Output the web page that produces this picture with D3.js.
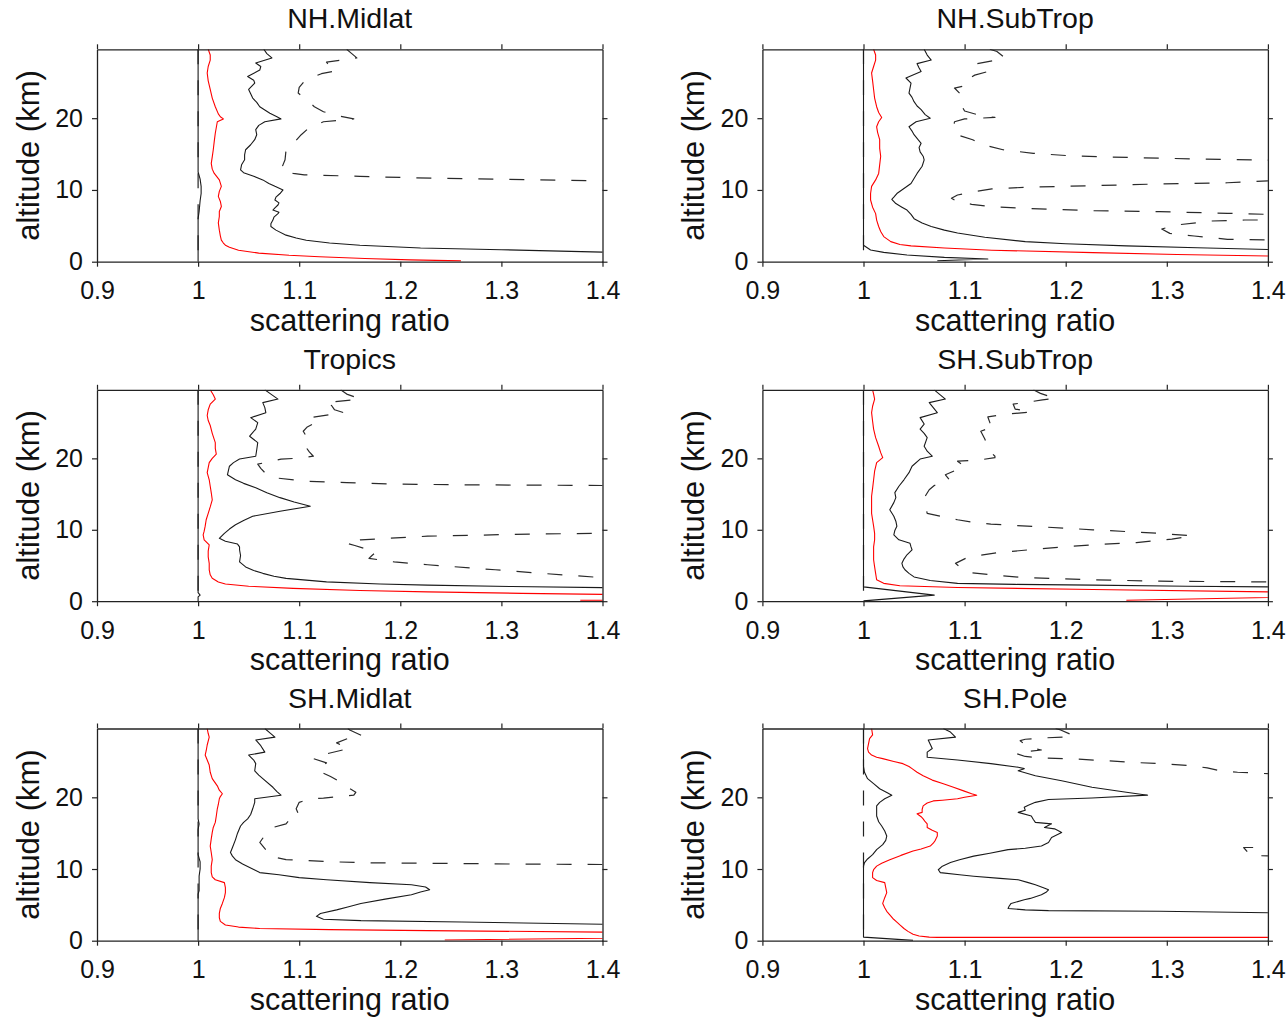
<!DOCTYPE html>
<html><head><meta charset="utf-8">
<script src="https://cdn.jsdelivr.net/npm/d3@7"></script>
<style>body{margin:0;background:#fff}svg{display:block}</style>
</head><body>
<svg id="chart" width="1288" height="1018"></svg>
<script>
// ---- tick / label data ----
const panelTitles = ["NH.Midlat","NH.SubTrop","Tropics","SH.SubTrop","SH.Midlat","SH.Pole"];
const xTicks = [0.9,1,1.1,1.2,1.3,1.4];
const xTickLabels = ["0.9","1","1.1","1.2","1.3","1.4"];
const yTicks = [0,10,20];
const yTickLabels = ["0","10","20"];
const xDomain = [0.9,1.4];
const yDomain = [0,29.6];
const xLabel = "scattering ratio";
const yLabel = "altitude (km)";

// ---- series: [altitude km, scattering ratio] ----
// NH.Midlat
const nhMidlatMin = [[29.6,1],[0,1]];
const nhMidlatLow = [[29.6,1],[12.5,1],[11.5,1.002],[10.5,1.003],[9.5,1.003],[8.5,1.002],[7,1.001],[6,1],[0,1]];
const nhMidlatMedian = [[29.6,1.010],[28.8,1.012],[28.1,1.012],[27.2,1.010],[26.3,1.009],[25.2,1.010],[24,1.012],[22.8,1.014],[21.6,1.017],[20.6,1.020],[20.2,1.022],[19.9,1.025],[19.5,1.019],[18.7,1.018],[17.9,1.017],[16.8,1.016],[15.6,1.015],[14.6,1.014],[13.7,1.013],[12.9,1.014],[12.3,1.016],[11.4,1.021],[10.5,1.023],[9.8,1.021],[9.1,1.020],[8.4,1.022],[7.7,1.023],[7.0,1.021],[6.3,1.021],[5.4,1.020],[4.4,1.021],[3.6,1.022],[3.0,1.023],[2.6,1.025],[2.3,1.027],[2.0,1.031],[1.6,1.04],[1.2,1.06],[0.9,1.09],[0.7,1.12],[0.45,1.165],[0.25,1.21],[0.12,1.26]];
const nhMidlatHigh = [[29.6,1.065],[29.0,1.068],[28.4,1.073],[27.7,1.057],[27.2,1.062],[26.7,1.061],[25.8,1.049],[25.3,1.055],[24.9,1.056],[24.0,1.050],[23.4,1.052],[22.8,1.054],[22.2,1.058],[21.6,1.061],[20.7,1.071],[20.2,1.078],[19.9,1.082],[19.5,1.066],[19.0,1.060],[18.4,1.057],[17.7,1.058],[17.0,1.056],[16.3,1.052],[15.6,1.047],[14.9,1.046],[14.2,1.046],[13.5,1.043],[12.8,1.042],[12.4,1.045],[11.9,1.055],[11.4,1.064],[10.9,1.070],[10.5,1.076],[10.0,1.084],[9.5,1.081],[9.0,1.077],[8.6,1.076],[8.2,1.080],[7.9,1.079],[7.5,1.076],[7.2,1.074],[6.9,1.080],[6.7,1.079],[6.2,1.075],[5.8,1.074],[5.3,1.072],[4.9,1.072],[4.4,1.077],[3.7,1.087],[3.3,1.097],[3.0,1.107],[2.6,1.13],[2.3,1.16],[1.9,1.22],[1.67,1.30],[1.34,1.40],[1.0,1.6],[0.5,2.0],[0.1,2.3]];
const nhMidlatMax = [[29.6,1.147],[29.0,1.152],[28.4,1.157],[27.8,1.127],[27.3,1.13],[26.6,1.137],[26.2,1.122],[25.3,1.106],[24.3,1.10],[23.5,1.099],[22.6,1.107],[21.6,1.115],[20.9,1.124],[20.3,1.14],[19.9,1.154],[19.5,1.124],[18.7,1.11],[17.7,1.102],[16.6,1.095],[15.6,1.087],[14.2,1.086],[12.8,1.082],[12.3,1.094],[12.1,1.105],[11.9,1.16],[11.7,1.21],[11.5,1.30],[11.25,1.40],[11.0,1.7],[8,2.2],[4,2.8],[0,3.2]];

// NH.SubTrop
const nhSubtropMin = [[29.6,1],[0,1]];
const nhSubtropLow = [[29.6,1],[2.3,1],[1.63,1.007],[1.3,1.02],[0.93,1.043],[0.6,1.08],[0.37,1.123],[0.14,1.073]];
const nhSubtropMedian = [[29.6,1.010],[28.8,1.012],[28.1,1.012],[27.2,1.010],[26.3,1.008],[25.2,1.009],[24,1.010],[22.8,1.011],[21.6,1.013],[20.8,1.015],[20.1,1.018],[19.5,1.015],[18.8,1.013],[18,1.014],[17,1.016],[15.8,1.016],[14.7,1.017],[13.5,1.016],[12.3,1.015],[11.4,1.012],[10.5,1.008],[9.5,1.007],[8.6,1.007],[7.6,1.009],[6.7,1.012],[5.8,1.013],[4.9,1.015],[4.2,1.017],[3.5,1.020],[2.8,1.027],[2.4,1.036],[2.2,1.047],[1.9,1.08],[1.6,1.127],[1.26,1.227],[1.0,1.31],[0.8,1.40],[0.5,1.6],[0.1,2.0]];
const nhSubtropHigh = [[29.6,1.060],[28.8,1.063],[28.1,1.067],[27.6,1.053],[27.0,1.055],[26.5,1.057],[25.6,1.042],[24.9,1.047],[24.2,1.046],[23.5,1.045],[22.9,1.048],[22.3,1.050],[21.7,1.053],[21.2,1.057],[20.5,1.061],[20.0,1.066],[19.5,1.052],[18.8,1.045],[18.2,1.048],[17.7,1.050],[17.0,1.054],[16.5,1.057],[15.9,1.055],[15.3,1.056],[14.7,1.059],[14.2,1.060],[13.3,1.058],[12.3,1.053],[11.6,1.050],[10.9,1.047],[10.2,1.040],[9.5,1.033],[9.0,1.030],[8.7,1.028],[8.1,1.032],[7.6,1.038],[7.2,1.043],[6.6,1.047],[6.0,1.050],[5.4,1.058],[4.9,1.067],[4.4,1.080],[4.0,1.093],[3.4,1.12],[2.8,1.160],[2.5,1.20],[2.2,1.260],[1.95,1.33],[1.7,1.40],[1.3,1.6],[0.5,2.2]];
const nhSubtropMax = [[29.6,1.125],[29.3,1.132],[28.4,1.14],[28.0,1.128],[27.6,1.112],[26.5,1.123],[26.0,1.11],[25.2,1.10],[24.5,1.10],[24.2,1.09],[23.5,1.095],[22.3,1.095],[21.0,1.10],[20.4,1.115],[20.1,1.13],[19.9,1.10],[19.5,1.09],[18.6,1.089],[17.7,1.092],[17.0,1.108],[16.3,1.118],[15.6,1.138],[15.1,1.168],[14.8,1.20],[14.6,1.24],[14.4,1.30],[14.25,1.36],[14.15,1.40],[13.5,1.7],[12,1.8],[11.5,1.6],[11.26,1.40],[11.0,1.36],[10.84,1.293],[10.6,1.227],[10.37,1.16],[10.14,1.127],[9.77,1.11],[9.3,1.093],[8.84,1.087],[8.37,1.093],[8.0,1.107],[7.67,1.127],[7.44,1.16],[7.1,1.227],[6.98,1.293],[6.74,1.36],[6.6,1.40],[6.2,1.6],[5.9,1.5],[5.81,1.40],[5.81,1.377],[5.67,1.344],[5.12,1.31],[4.56,1.295],[3.95,1.303],[3.58,1.327],[3.12,1.36],[3.02,1.40],[2,1.7],[0,2.0]];

// Tropics
const tropicsMin = [[29.6,1],[0,1]];
const tropicsLow = [[29.6,1],[1.2,1],[0.85,1.002],[0.6,1],[0,1]];
const tropicsMedian = [[29.6,1.012],[28.9,1.015],[28.3,1.017],[27.6,1.012],[26.8,1.010],[26.0,1.009],[25.3,1.010],[24.6,1.012],[23.5,1.014],[22.2,1.017],[21.4,1.017],[20.6,1.018],[20.0,1.014],[19.4,1.011],[18.7,1.010],[18.0,1.009],[17.0,1.011],[16.1,1.012],[15.2,1.013],[14.2,1.014],[13.2,1.012],[12.3,1.010],[11.4,1.008],[10.5,1.007],[9.8,1.006],[9.3,1.005],[8.6,1.006],[7.9,1.011],[7.0,1.010],[6.2,1.010],[5.3,1.011],[4.4,1.011],[3.7,1.012],[3.2,1.014],[2.7,1.02],[2.4,1.027],[2.1,1.05],[1.8,1.094],[1.5,1.16],[1.3,1.227],[1.1,1.32],[0.95,1.40],[0.5,1.8],[0.35,1.9],[0.14,1.378]];
const tropicsHigh = [[29.6,1.066],[29.0,1.072],[28.3,1.079],[27.8,1.064],[27.1,1.066],[26.4,1.067],[25.7,1.052],[25.0,1.059],[24.1,1.057],[23.1,1.051],[22.2,1.059],[21.2,1.058],[20.3,1.057],[19.9,1.041],[19.4,1.035],[18.9,1.031],[17.7,1.029],[17.0,1.037],[16.5,1.045],[15.9,1.057],[15.2,1.068],[14.5,1.081],[13.9,1.095],[13.3,1.111],[12.6,1.081],[11.9,1.054],[11.3,1.045],[10.7,1.037],[10.1,1.031],[9.5,1.026],[8.8,1.021],[8.4,1.027],[8.0,1.039],[7.6,1.041],[7.2,1.041],[6.4,1.042],[5.5,1.041],[4.8,1.047],[4.3,1.055],[3.9,1.064],[3.5,1.075],[3.2,1.087],[2.7,1.127],[2.4,1.18],[2.25,1.227],[2.05,1.31],[1.9,1.40],[1.5,1.7],[0.5,2.5]];
const tropicsMax = [[29.6,1.141],[29.0,1.147],[28.6,1.155],[28.3,1.16],[27.8,1.126],[27.4,1.132],[26.8,1.135],[26.4,1.144],[25.7,1.11],[25.0,1.116],[24.4,1.108],[23.8,1.104],[23.1,1.107],[22.3,1.11],[21.5,1.107],[20.9,1.11],[20.3,1.114],[20.0,1.096],[19.9,1.082],[19.5,1.07],[19.2,1.059],[18.6,1.062],[18.0,1.066],[17.6,1.07],[17.3,1.074],[16.8,1.107],[16.6,1.147],[16.4,1.194],[16.3,1.261],[16.2,1.40],[15,1.8],[11,2.0],[9.8,1.6],[9.5,1.40],[9.4,1.328],[9.1,1.227],[8.6,1.161],[8.3,1.15],[8.1,1.147],[7.8,1.155],[7.4,1.164],[6.9,1.176],[6.4,1.172],[6.0,1.169],[5.5,1.194],[5.1,1.227],[4.4,1.294],[3.9,1.34],[3.3,1.40],[2,1.8],[0,2.2]];

// SH.SubTrop
const shSubtropMin = [[29.6,1],[0,1]];
const shSubtropLow = [[29.6,1],[2.0,1],[0.85,1.07],[0.05,1]];
const shSubtropMedian = [[29.6,1.009],[29.0,1.010],[28.3,1.011],[27.3,1.009],[26.4,1.008],[25.2,1.009],[24.1,1.010],[22.9,1.012],[21.7,1.015],[20.8,1.017],[20.1,1.019],[19.4,1.013],[18.2,1.011],[17.0,1.010],[15.8,1.009],[14.7,1.008],[13.5,1.008],[12.3,1.008],[11.4,1.009],[10.5,1.010],[9.5,1.011],[8.6,1.011],[7.6,1.010],[6.7,1.010],[5.8,1.010],[4.8,1.011],[3.9,1.012],[3.0,1.013],[2.5,1.020],[2.16,1.036],[1.92,1.093],[1.64,1.227],[1.31,1.40],[1.0,1.577],[0.14,1.26]];
const shSubtropHigh = [[29.6,1.070],[29.0,1.075],[28.3,1.081],[27.8,1.065],[27.1,1.069],[26.4,1.073],[25.7,1.056],[24.8,1.060],[24.1,1.056],[23.5,1.06],[22.9,1.063],[21.7,1.060],[21.0,1.063],[20.3,1.068],[19.9,1.056],[18.9,1.048],[18.0,1.045],[17.0,1.040],[16.1,1.035],[15.2,1.031],[14.5,1.032],[13.8,1.030],[12.8,1.026],[11.9,1.030],[11.2,1.032],[10.5,1.033],[9.9,1.031],[9.3,1.030],[8.6,1.035],[8.1,1.046],[7.6,1.047],[7.2,1.048],[6.5,1.043],[5.9,1.040],[5.3,1.038],[4.8,1.039],[4.4,1.041],[3.9,1.045],[3.4,1.050],[2.9,1.066],[2.5,1.093],[2.35,1.15],[2.25,1.227],[2.1,1.32],[2.0,1.40],[1.6,1.7],[0.5,2.3]];
const shSubtropMax = [[29.6,1.168],[29.1,1.175],[28.4,1.19],[28.2,1.177],[27.8,1.16],[27.6,1.148],[26.9,1.15],[26.5,1.166],[26.3,1.15],[26.1,1.136],[25.8,1.123],[25.0,1.125],[24.5,1.13],[23.8,1.116],[22.7,1.12],[21.0,1.125],[20.3,1.13],[20.1,1.13],[19.8,1.116],[19.6,1.093],[18.9,1.10],[17.7,1.081],[17.0,1.085],[16.2,1.07],[15.6,1.065],[14.7,1.061],[13.8,1.06],[12.9,1.062],[12.3,1.063],[11.9,1.076],[11.4,1.093],[11.0,1.11],[10.8,1.126],[10.4,1.177],[10.0,1.227],[9.5,1.293],[9.15,1.325],[8.9,1.315],[8.7,1.305],[8.2,1.27],[7.9,1.227],[7.4,1.18],[6.8,1.133],[6.3,1.11],[6.0,1.101],[5.3,1.091],[4.6,1.097],[4.0,1.106],[3.7,1.126],[3.3,1.16],[3.0,1.227],[2.8,1.293],[2.7,1.40],[2.0,1.8],[0,2.5]];

// SH.Midlat
const shMidlatMin = [[29.6,1],[0,1]];
const shMidlatLow = [[29.6,1],[17,1],[16.3,1.001],[15.5,1],[12,1],[11,1.002],[10,1.002],[9,1.001],[7,1.001],[6.5,1],[0,1]];
const shMidlatMedian = [[29.6,1.009],[28.9,1.010],[28.4,1.011],[27.3,1.009],[26.5,1.008],[25.9,1.007],[25.2,1.009],[24.5,1.011],[23.5,1.012],[22.6,1.014],[21.6,1.019],[21.0,1.021],[20.5,1.024],[20.1,1.022],[19.8,1.021],[19.0,1.020],[18.4,1.019],[17.4,1.018],[16.5,1.017],[15.8,1.015],[15.1,1.014],[14.2,1.013],[13.2,1.012],[12.3,1.013],[11.3,1.014],[10.4,1.013],[9.5,1.013],[8.9,1.014],[8.5,1.017],[8.1,1.026],[7.4,1.027],[6.7,1.027],[6.0,1.026],[5.2,1.024],[4.5,1.022],[3.8,1.021],[3.2,1.021],[2.7,1.022],[2.2,1.027],[1.9,1.04],[1.7,1.061],[1.55,1.13],[1.4,1.227],[1.2,1.40],[0.9,1.77],[0.1,1.244]];
const shMidlatHigh = [[29.6,1.066],[29.0,1.071],[28.4,1.076],[28.0,1.057],[27.2,1.062],[26.3,1.066],[25.9,1.050],[25.2,1.055],[24.7,1.057],[23.7,1.056],[23.1,1.060],[22.6,1.064],[21.4,1.074],[20.8,1.078],[20.3,1.082],[19.8,1.056],[19.3,1.056],[18.4,1.054],[17.6,1.052],[17.0,1.049],[16.5,1.045],[16.0,1.042],[15.0,1.039],[14.1,1.037],[13.0,1.034],[12.3,1.032],[11.8,1.034],[11.3,1.037],[10.7,1.044],[10.2,1.051],[9.5,1.061],[9.2,1.08],[8.8,1.10],[8.5,1.127],[8.1,1.17],[7.8,1.211],[7.5,1.225],[7.1,1.229],[6.8,1.22],[6.4,1.211],[5.8,1.185],[5.2,1.161],[4.7,1.148],[4.3,1.137],[3.8,1.121],[3.4,1.117],[3.0,1.124],[2.8,1.161],[2.6,1.261],[2.3,1.40],[1.8,1.7],[0.5,2.5]];
const shMidlatMax = [[29.6,1.148],[29.4,1.150],[28.6,1.162],[28.2,1.148],[27.6,1.137],[26.8,1.149],[26.0,1.125],[25.4,1.114],[24.8,1.127],[24.2,1.12],[23.7,1.119],[22.9,1.131],[22.2,1.14],[21.9,1.142],[20.7,1.156],[20.3,1.154],[20.1,1.139],[19.9,1.124],[19.8,1.111],[19.3,1.10],[18.4,1.097],[17.4,1.10],[16.8,1.09],[16.3,1.087],[15.8,1.074],[14.5,1.065],[13.7,1.061],[12.7,1.067],[12.2,1.068],[11.7,1.074],[11.3,1.087],[11.2,1.104],[11.0,1.134],[10.87,1.167],[10.8,1.227],[10.7,1.31],[10.63,1.40],[10.0,1.7],[5,2.5],[0,3]];

// SH.Pole
const shPoleMin = [[29.6,1],[0,1]];
const shPoleLow = [[29.6,1],[24.3,1],[23.5,1.001],[22.6,1.004],[21.9,1.01],[21.2,1.016],[20.6,1.024],[20.3,1.028],[19.8,1.021],[19.3,1.016],[18.8,1.013],[17.4,1.013],[16.6,1.015],[16.0,1.018],[15.3,1.021],[14.6,1.023],[14.0,1.022],[13.4,1.019],[12.7,1.013],[12.0,1.009],[11.4,1.004],[10.9,1.001],[10.4,1],[0.5,1],[0.05,1.049]];
const shPoleMedian = [[29.6,1.008],[28.7,1.009],[28.2,1.006],[27.5,1.005],[26.8,1.004],[26.3,1.005],[25.9,1.008],[25.6,1.013],[25.4,1.019],[25.0,1.03],[24.7,1.039],[24.3,1.045],[24.0,1.048],[23.5,1.053],[23.0,1.059],[22.4,1.068],[21.9,1.079],[21.4,1.089],[20.9,1.099],[20.5,1.107],[20.3,1.112],[20.0,1.10],[19.8,1.093],[19.6,1.078],[19.5,1.069],[19.2,1.063],[18.8,1.059],[18.3,1.058],[17.9,1.058],[17.7,1.053],[17.3,1.057],[17.0,1.059],[16.6,1.061],[16.3,1.063],[15.8,1.063],[15.4,1.068],[15.1,1.073],[14.6,1.073],[14.0,1.071],[13.6,1.069],[13.2,1.066],[12.8,1.057],[12.5,1.049],[11.9,1.037],[11.3,1.026],[10.8,1.018],[10.4,1.013],[9.9,1.010],[9.5,1.009],[8.8,1.009],[8.4,1.013],[8.1,1.021],[7.4,1.022],[6.7,1.023],[6.0,1.021],[5.2,1.019],[4.6,1.021],[4.1,1.023],[3.6,1.026],[3.1,1.029],[2.6,1.033],[2.2,1.036],[1.7,1.04],[1.3,1.044],[0.9,1.049],[0.65,1.055],[0.5,1.065],[0.47,1.073],[0.45,3.5]];
const shPoleHigh = [[29.6,1.079],[29.1,1.086],[28.4,1.091],[28.0,1.064],[27.4,1.066],[26.8,1.068],[26.3,1.063],[25.6,1.063],[25.2,1.093],[24.7,1.126],[24.2,1.153],[24.0,1.159],[23.7,1.153],[23.0,1.17],[22.3,1.196],[21.4,1.226],[20.7,1.26],[20.3,1.281],[19.9,1.226],[19.7,1.183],[19.3,1.17],[18.9,1.163],[18.6,1.159],[18.2,1.16],[17.9,1.153],[17.4,1.166],[16.9,1.168],[16.5,1.17],[16.3,1.186],[15.8,1.179],[15.6,1.189],[15.1,1.196],[14.4,1.186],[13.7,1.183],[13.2,1.176],[12.9,1.16],[12.7,1.143],[12.2,1.125],[11.8,1.109],[11.3,1.095],[10.9,1.086],[10.4,1.078],[9.9,1.074],[9.5,1.076],[9.2,1.095],[9.0,1.109],[8.7,1.135],[8.5,1.153],[8.1,1.163],[7.8,1.170],[7.4,1.178],[7.1,1.183],[6.8,1.181],[6.4,1.176],[5.9,1.165],[5.7,1.159],[5.2,1.146],[4.8,1.144],[4.5,1.143],[4.3,1.16],[4.2,1.183],[4.1,1.293],[3.9,1.40],[3.5,1.7],[0.5,2.5]];
const shPoleMax = [[29.6,1.19],[29.4,1.195],[28.6,1.208],[28.4,1.20],[28.3,1.18],[28.1,1.16],[27.9,1.155],[27.3,1.16],[26.9,1.165],[26.6,1.176],[26.4,1.163],[26.1,1.151],[25.7,1.16],[25.5,1.175],[25.35,1.21],[25.1,1.24],[24.85,1.27],[24.65,1.30],[24.4,1.325],[24.1,1.34],[23.7,1.353],[23.5,1.37],[23.3,1.40],[22,1.8],[14,2.0],[13.05,1.6],[13.0,1.376],[11.85,1.383],[11.8,1.6],[5,2.5],[0,3]];

// ---- assemble ----
const panelSeries = [
  [nhMidlatMin, nhMidlatLow, nhMidlatMedian, nhMidlatHigh, nhMidlatMax],
  [nhSubtropMin, nhSubtropLow, nhSubtropMedian, nhSubtropHigh, nhSubtropMax],
  [tropicsMin, tropicsLow, tropicsMedian, tropicsHigh, tropicsMax],
  [shSubtropMin, shSubtropLow, shSubtropMedian, shSubtropHigh, shSubtropMax],
  [shMidlatMin, shMidlatLow, shMidlatMedian, shMidlatHigh, shMidlatMax],
  [shPoleMin, shPoleLow, shPoleMedian, shPoleHigh, shPoleMax]
];
// style per series index: min, low, median, high, max
const seriesStyle = [
  {stroke:"#222", width:1.2, dash:"15,16"},
  {stroke:"#1a1a1a", width:1.1, dash:null},
  {stroke:"#ff0000", width:1.1, dash:null},
  {stroke:"#1a1a1a", width:1.1, dash:null},
  {stroke:"#2a2a2a", width:1.2, dash:"15,16"}
];

const FONT = "'Liberation Sans', Arial, Helvetica, sans-serif";
const colLeft = [97, 762.4];
const panelW = 505.5;
const rowTop = [49.3, 389.8, 728.5];
const rowBottom = [261.7, 601.2, 940.7];

const svg = d3.select("#chart");
svg.append("rect").attr("width",1288).attr("height",1018).attr("fill","#fff");

panelSeries.forEach((series, i) => {
  const col = i % 2, row = Math.floor(i / 2);
  const left = colLeft[col], top = rowTop[row], bottom = rowBottom[row];
  const h = bottom - top;
  const x = d3.scaleLinear().domain(xDomain).range([0, panelW]);
  const y = d3.scaleLinear().domain(yDomain).range([h, 0]);
  const g = svg.append("g").attr("transform", `translate(${left},${top})`);
  const clipId = "clip" + i;
  g.append("clipPath").attr("id", clipId).append("rect").attr("x",0).attr("y",0).attr("width",panelW).attr("height",h);

  const line = d3.line().x(d => x(d[1])).y(d => y(d[0]));
  const plot = g.append("g").attr("clip-path", `url(#${clipId})`);
  const order = [0, 4, 1, 3, 2];
  order.forEach(k => {
    const st = seriesStyle[k];
    const p = plot.append("path").datum(series[k]).attr("d", line)
      .attr("fill","none").attr("stroke", st.stroke).attr("stroke-width", st.width)
      .attr("stroke-linejoin","round");
    if (st.dash) p.attr("stroke-dasharray", st.dash);
  });

  const axColor = "#222";
  const styleAxis = sel => {
    sel.attr("color", axColor).attr("font-family", FONT).attr("font-size", 25);
    sel.selectAll("path.domain").attr("stroke-width", 1.3);
    sel.selectAll(".tick line").attr("stroke-width", 1.2);
    sel.selectAll(".tick text").attr("fill", "#111");
  };
  g.append("g").attr("transform", `translate(0,${h})`)
    .call(d3.axisBottom(x).tickValues(xTicks).tickFormat((d,j) => xTickLabels[j]).tickSize(5).tickSizeOuter(0).tickPadding(15))
    .call(styleAxis);
  g.append("g")
    .call(d3.axisTop(x).tickValues(xTicks).tickFormat("").tickSize(5).tickSizeOuter(0))
    .call(styleAxis);
  g.append("g")
    .call(d3.axisLeft(y).tickValues(yTicks).tickFormat((d,j) => yTickLabels[j]).tickSize(5).tickSizeOuter(0).tickPadding(9))
    .call(styleAxis);
  g.append("g").attr("transform", `translate(${panelW},0)`)
    .call(d3.axisRight(y).tickValues(yTicks).tickFormat("").tickSize(5).tickSizeOuter(0))
    .call(styleAxis);

  // title
  g.append("text").attr("x", panelW/2).attr("y", -21).attr("text-anchor","middle")
    .attr("font-family", FONT).attr("font-size", 28.5).attr("fill","#111").text(panelTitles[i]);
  // x label
  g.append("text").attr("x", panelW/2).attr("y", h + 69).attr("text-anchor","middle")
    .attr("font-family", FONT).attr("font-size", 30.5).attr("fill","#111").text(xLabel);
  // y label
  g.append("text").attr("transform", `translate(-58,${h/2}) rotate(-90)`).attr("text-anchor","middle")
    .attr("font-family", FONT).attr("font-size", 31).attr("fill","#111").text(yLabel);
});
</script>
</body></html>
